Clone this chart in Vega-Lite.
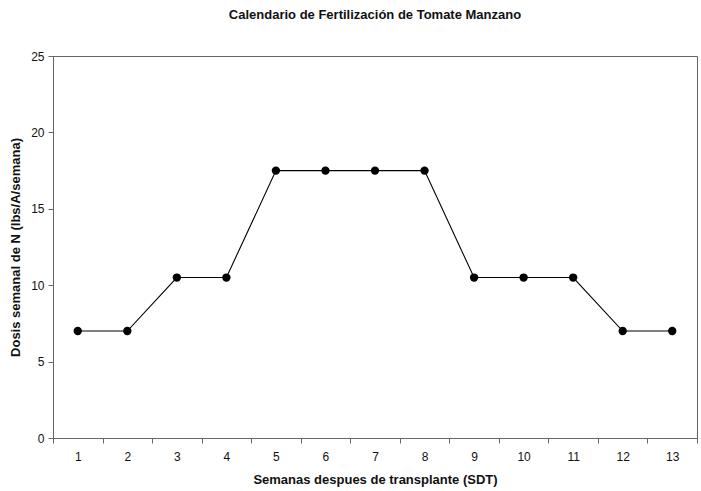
{
  "$schema": "https://vega.github.io/schema/vega-lite/v6.json",
  "autosize": {"type": "none"},
  "width": 644,
  "height": 382,
  "padding": {"left": 53, "top": 56, "right": 4, "bottom": 53},
  "background": "white",
  "title": {
    "text": "Calendario de Fertilización de Tomate Manzano",
    "font": "Liberation Sans",
    "fontSize": 13,
    "fontWeight": "bold",
    "color": "#111",
    "anchor": "middle",
    "offset": 28
  },
  "config": {
    "view": {"stroke": "#666", "strokeWidth": 1},
    "axis": {
      "labelFont": "Liberation Sans",
      "titleFont": "Liberation Sans",
      "labelFontSize": 12,
      "titleFontSize": 13,
      "titleFontWeight": "bold",
      "labelColor": "#111",
      "titleColor": "#111",
      "domainColor": "#666",
      "tickColor": "#666",
      "grid": false
    }
  },
  "data": {
    "values": [
      {"semana": 1, "dosis": 7},
      {"semana": 2, "dosis": 7},
      {"semana": 3, "dosis": 10.5},
      {"semana": 4, "dosis": 10.5},
      {"semana": 5, "dosis": 17.5},
      {"semana": 6, "dosis": 17.5},
      {"semana": 7, "dosis": 17.5},
      {"semana": 8, "dosis": 17.5},
      {"semana": 9, "dosis": 10.5},
      {"semana": 10, "dosis": 10.5},
      {"semana": 11, "dosis": 10.5},
      {"semana": 12, "dosis": 7},
      {"semana": 13, "dosis": 7}
    ]
  },
  "encoding": {
    "x": {
      "field": "semana",
      "type": "ordinal",
      "sort": null,
      "scale": {"paddingInner": 0, "paddingOuter": 0},
      "axis": {
        "title": "Semanas despues de transplante (SDT)",
        "labelAngle": 0,
        "tickBand": "extent",
        "tickSize": 5,
        "labelPadding": 8,
        "titlePadding": 11
      }
    },
    "y": {
      "field": "dosis",
      "type": "quantitative",
      "scale": {"domain": [0, 25]},
      "axis": {
        "title": "Dosis semanal de N (lbs/A/semana)",
        "values": [0, 5, 10, 15, 20, 25],
        "tickSize": 5,
        "labelPadding": 4,
        "titlePadding": 8
      }
    }
  },
  "layer": [
    {"mark": {"type": "line", "color": "#000", "strokeWidth": 1.1}},
    {"mark": {"type": "point", "filled": true, "color": "#000", "opacity": 1, "size": 70}}
  ]
}
